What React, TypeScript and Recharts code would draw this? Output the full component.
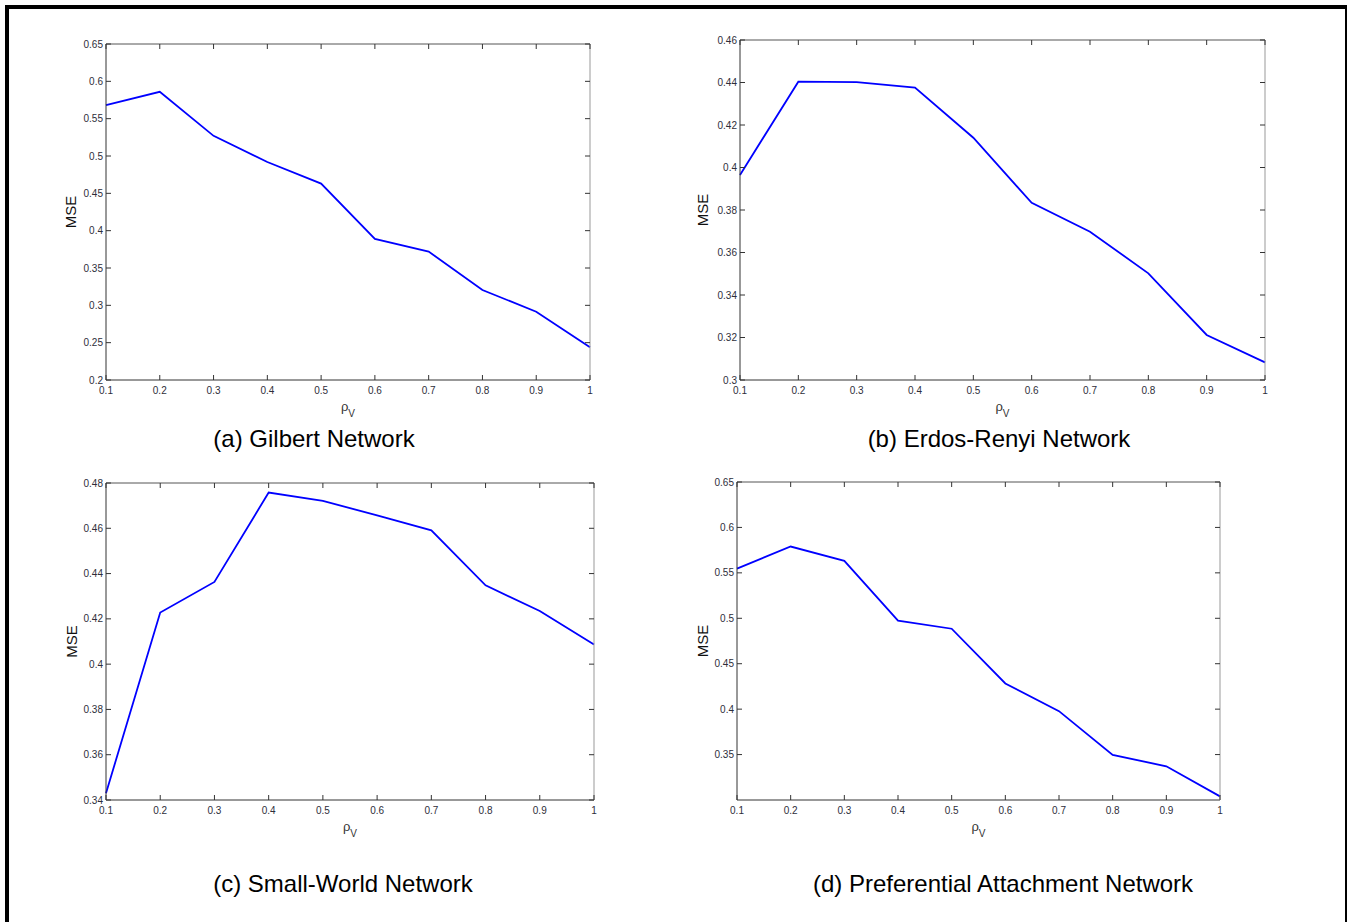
import { LineChart, Line, XAxis, YAxis, Label } from 'recharts';

// rho_V sweep shared by all four panels
const rhoV = [0.1, 0.2, 0.3, 0.4, 0.5, 0.6, 0.7, 0.8, 0.9, 1];

const gilbertMse = [0.568, 0.586, 0.527, 0.492, 0.463, 0.389, 0.372, 0.3205, 0.2915, 0.2438];
const erdosRenyiMse = [0.3965, 0.4404, 0.4402, 0.4376, 0.414, 0.3834, 0.3698, 0.3502, 0.3212, 0.3083];
const smallWorldMse = [0.343, 0.4228, 0.4363, 0.4758, 0.4721, 0.4657, 0.4591, 0.4348, 0.4235, 0.4087];
const prefAttachMse = [0.5547, 0.579, 0.5632, 0.4974, 0.4885, 0.4283, 0.3978, 0.3496, 0.3371, 0.304];

const gilbertTicks = [0.2, 0.25, 0.3, 0.35, 0.4, 0.45, 0.5, 0.55, 0.6, 0.65];
const erdosRenyiTicks = [0.3, 0.32, 0.34, 0.36, 0.38, 0.4, 0.42, 0.44, 0.46];
const smallWorldTicks = [0.34, 0.36, 0.38, 0.4, 0.42, 0.44, 0.46, 0.48];
const prefAttachTicks = [0.35, 0.4, 0.45, 0.5, 0.55, 0.6, 0.65];

const captions = [
  '(a) Gilbert Network',
  '(b) Erdos-Renyi Network',
  '(c) Small-World Network',
  '(d) Preferential Attachment Network',
];

const FONT = "'Liberation Sans', Arial, Helvetica, sans-serif";
const TICK_COLOR = '#2e2e3a';
const TICK_LEN = 5;

const fmt = (v: number) => String(parseFloat(Number(v).toFixed(3)));

const BottomTick = (p: any) => (
  <g>
    <line x1={p.x} x2={p.x} y1={p.y} y2={p.y - TICK_LEN} stroke="#333" />
    <text x={p.x} y={p.y + 14} textAnchor="middle" fontSize={10} fontFamily={FONT} fill={TICK_COLOR}>
      {fmt(p.payload.value)}
    </text>
  </g>
);

const TopTick = (p: any) => <line x1={p.x} x2={p.x} y1={p.y} y2={p.y + TICK_LEN} stroke="#333" />;

const LeftTick = (p: any) => (
  <g>
    <line x1={p.x} x2={p.x + TICK_LEN} y1={p.y} y2={p.y} stroke="#333" />
    <text x={p.x - 3} y={p.y + 3.5} textAnchor="end" fontSize={10} fontFamily={FONT} fill={TICK_COLOR}>
      {fmt(p.payload.value)}
    </text>
  </g>
);

const RightTick = (p: any) => <line x1={p.x} x2={p.x - TICK_LEN} y1={p.y} y2={p.y} stroke="#333" />;

interface PanelProps {
  left: number;
  top: number;
  w: number;
  h: number;
  values: number[];
  domain: [number, number];
  yTicks: number[];
  yLabelGap: number;
}

function Panel({ left, top, w, h, values, domain, yTicks, yLabelGap }: PanelProps) {
  const data = rhoV.map((x, i) => ({ x, mse: values[i] }));
  return (
    <div style={{ position: 'absolute', left: left - 60, top: top - 10 }}>
      <LineChart width={w + 70} height={h + 50} data={data} margin={{ top: 9, right: 9, bottom: 0, left: 0 }}>
        <XAxis
          dataKey="x"
          type="number"
          domain={[0.1, 1]}
          ticks={rhoV}
          interval={0}
          height={40}
          tickSize={0}
          tickMargin={0}
          tickLine={false}
          axisLine={{ stroke: '#333' }}
          tick={(p: any) => <BottomTick {...p} />}
        >
          <Label
            content={(lp: any) => {
              const vb = lp.viewBox;
              return (
                <text x={vb.x + vb.width / 2} y={vb.y + 31} textAnchor="middle" fontFamily={FONT} fill="#333">
                  <tspan fontSize={13}>ρ</tspan>
                  <tspan fontSize={10} dy={6}>V</tspan>
                </text>
              );
            }}
          />
        </XAxis>
        <XAxis
          xAxisId="top"
          orientation="top"
          dataKey="x"
          type="number"
          domain={[0.1, 1]}
          ticks={rhoV}
          interval={0}
          height={1}
          tickSize={0}
          tickMargin={0}
          tickLine={false}
          axisLine={{ stroke: '#555' }}
          tick={(p: any) => <TopTick {...p} />}
        />
        <YAxis
          type="number"
          domain={domain}
          ticks={yTicks}
          interval={0}
          width={60}
          tickSize={0}
          tickMargin={0}
          tickLine={false}
          axisLine={{ stroke: '#333' }}
          tick={(p: any) => <LeftTick {...p} />}
        >
          <Label
            content={(lp: any) => {
              const vb = lp.viewBox;
              const cx = vb.x + vb.width - yLabelGap;
              const cy = vb.y + vb.height / 2;
              return (
                <text
                  x={cx}
                  y={cy}
                  transform={`rotate(-90 ${cx} ${cy})`}
                  textAnchor="middle"
                  dominantBaseline="central"
                  fontSize={15}
                  fontFamily={FONT}
                  fill="#111"
                >
                  MSE
                </text>
              );
            }}
          />
        </YAxis>
        <YAxis
          yAxisId="right"
          orientation="right"
          type="number"
          domain={domain}
          ticks={yTicks}
          interval={0}
          width={1}
          tickSize={0}
          tickMargin={0}
          tickLine={false}
          axisLine={{ stroke: '#999' }}
          tick={(p: any) => <RightTick {...p} />}
        />
        {/* invisible series so the top/right frame axes get their scales */}
        <Line
          xAxisId="top"
          yAxisId="right"
          type="linear"
          dataKey="mse"
          stroke="none"
          dot={false}
          activeDot={false}
          isAnimationActive={false}
        />
        <Line type="linear" dataKey="mse" stroke="#0000ff" strokeWidth={1.8} dot={false} isAnimationActive={false} />
      </LineChart>
    </div>
  );
}

export default function App() {
  return (
    <div style={{ position: 'absolute', left: 0, top: 0, width: 1348, height: 922, background: '#fff', overflow: 'hidden' }}>
      <svg width={1348} height={922} style={{ position: 'absolute', left: 0, top: 0 }}>
        <rect x={5} y={5} width={4} height={917} fill="#000" />
        <rect x={5} y={5} width={1342} height={4} fill="#000" />
        <rect x={1345} y={5} width={2} height={917} fill="#000" />
        <g fontFamily={FONT} fontSize={24} fill="#000" textAnchor="middle">
          <text x={314} y={447}>{captions[0]}</text>
          <text x={999} y={447}>{captions[1]}</text>
          <text x={343} y={892}>{captions[2]}</text>
          <text x={1003} y={892}>{captions[3]}</text>
        </g>
      </svg>
      <Panel left={106} top={44} w={484} h={336} values={gilbertMse} domain={[0.2, 0.65]} yTicks={gilbertTicks} yLabelGap={35.5} />
      <Panel left={740} top={40} w={525} h={340} values={erdosRenyiMse} domain={[0.3, 0.46]} yTicks={erdosRenyiTicks} yLabelGap={38} />
      <Panel left={106} top={483} w={488} h={317} values={smallWorldMse} domain={[0.34, 0.48]} yTicks={smallWorldTicks} yLabelGap={35} />
      <Panel left={737} top={482} w={483} h={318} values={prefAttachMse} domain={[0.3, 0.65]} yTicks={prefAttachTicks} yLabelGap={34.5} />
    </div>
  );
}
